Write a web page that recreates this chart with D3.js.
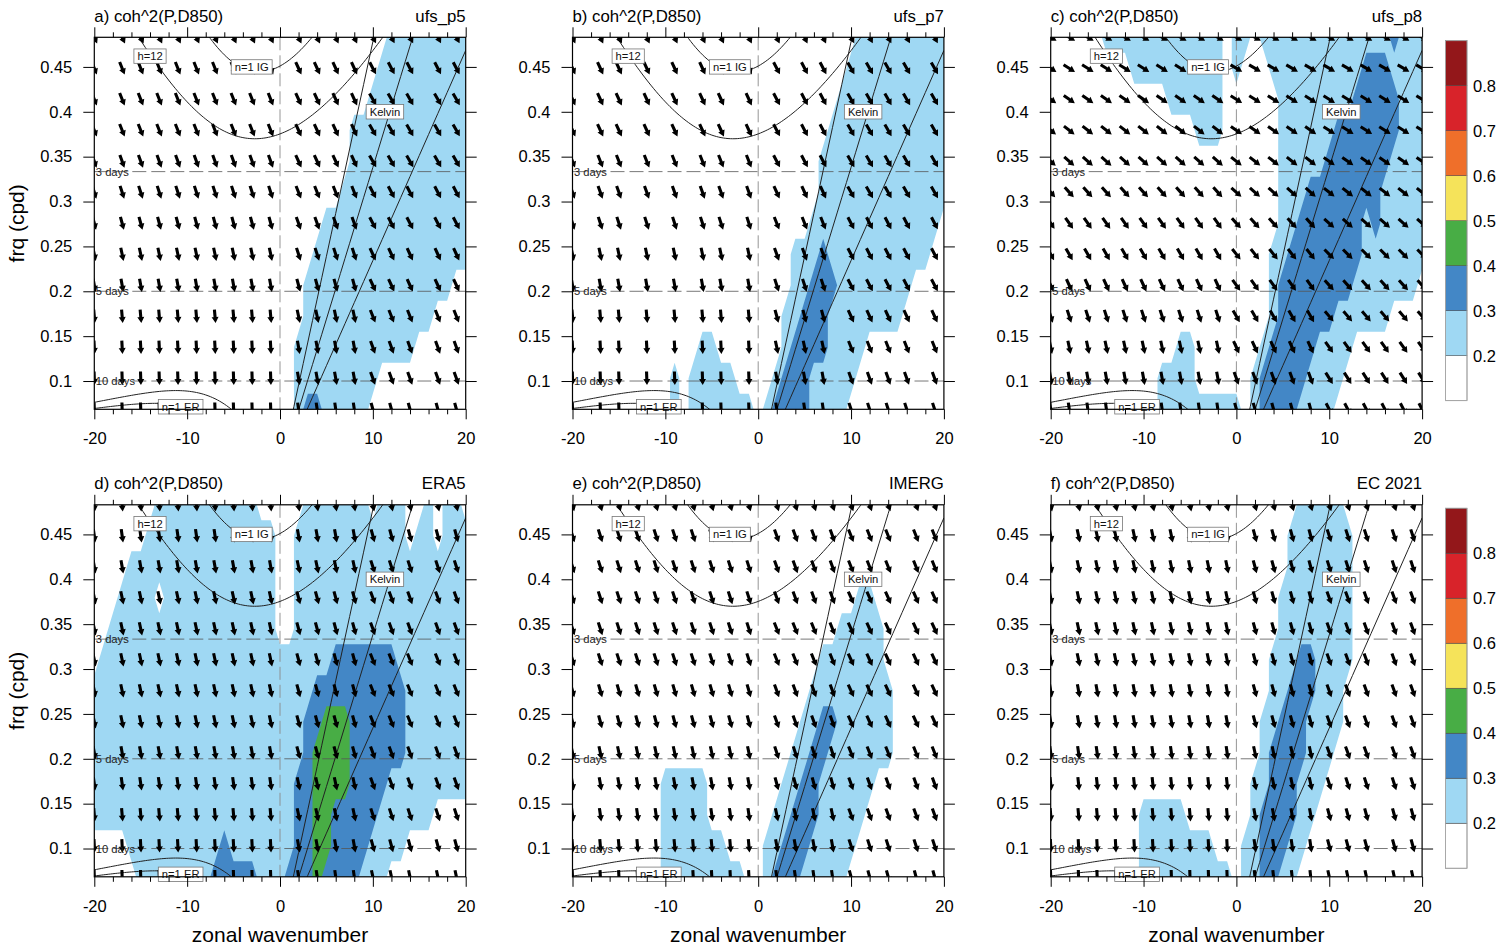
<!DOCTYPE html>
<html>
<head>
<meta charset="utf-8">
<script src="https://cdn.jsdelivr.net/npm/d3@7"></script>
<style>
body { margin: 0; background: #fff; }
svg text { font-family: "Liberation Sans", Arial, Helvetica, sans-serif; }
</style>
</head>
<body>
<svg id="chart" width="1503" height="949"></svg>
<script>
// coh^2 bins, one char per zonal wavenumber -20..20, rows go from top freq down to bottom freq
// 0: <0.2   1: 0.2-0.3   2: 0.3-0.4   3: 0.4-0.5
const cohA = [
  "0000000000 0000000000 0000000000 0011111111 1",
  "0000000000 0000000000 0000000000 0111111111 1",
  "0000000000 0000000000 0000000000 1111111111 1",
  "0000000000 0000000000 0000000011 1111111111 1",
  "0000000000 0000000000 0000000011 1111111111 1",
  "0000000000 0000000000 0000000111 1111111111 1",
  "0000000000 0000000000 0000011111 1111111111 1",
  "0000000000 0000000000 0000111111 1111111111 1",
  "0000000000 0000000000 0001111111 1111111110 0",
  "0000000000 0000000000 0001111111 1111111000 0",
  "0000000000 0000000000 0011111111 1111100000 0",
  "0000000000 0000000000 0011111111 1000000000 0",
  "0000000000 0000000000 0012211111 0000000000 0"
];
const cohB = [
  "0000000000 0000000000 0000000000 0111111111 1",
  "0000000000 0000000000 0000000000 1111111111 1",
  "0000000000 0000000000 0000000001 1111111111 1",
  "0000000000 0000000000 0000000011 1111111111 1",
  "0000000000 0000000000 0000000111 1111111111 1",
  "0000000000 0000000000 0000000111 1111111111 1",
  "0000000000 0000000000 0000001111 1111111111 0",
  "0000000000 0000000000 0000111211 1111111110 0",
  "0000000000 0000000000 0000112221 1111111000 0",
  "0000000000 0000000000 0001122211 1111110000 0",
  "0000000000 0000110000 0001222211 1100000000 0",
  "0000000000 0101111100 0012221111 1000000000 0",
  "0000000000 0101111111 0122221111 0000000000 0"
];
const cohC = [
  "0000001111 1111111110 1101111111 1111111211 1",
  "0000000001 1111111110 1000111111 1111222111 1",
  "0000000000 0001111110 0000011111 1112222211 1",
  "0000000000 0000001110 0000011111 1222222211 1",
  "0000000000 0000000000 0000011111 2222222111 1",
  "0000000000 0000000000 0000011122 2222221111 1",
  "0000000000 0000000000 0000011222 2222121111 1",
  "0000000000 0000000000 0000112222 2222111111 1",
  "0000000000 0000000000 0000122222 2221111111 0",
  "0000000000 0000000000 0000122222 2111111000 0",
  "0000000000 0000110000 0001222221 1110000000 0",
  "0000000000 0011110000 0012222211 1100000000 0",
  "0000000000 0011111111 1012222111 1000000000 0"
];
const cohD = [
  "0000000111 1111111100 0001111111 0111001011 0",
  "0000001111 1111111111 0011111111 1111011011 1",
  "0000111111 1111111111 0011111111 1111111111 1",
  "0001111011 1111111111 0011111111 1111111111 1",
  "0011111111 1111111111 0011111111 1111111111 1",
  "0111111111 1111111111 1111112222 2221111111 1",
  "1111111111 1111111111 1111222222 2222111111 1",
  "1111111111 1111111111 1112233322 2222111111 1",
  "1111111111 1111111111 1112333322 2222111111 1",
  "1111111111 1111111111 1122333322 2211111111 1",
  "1111111111 1111111111 1122332222 2111111000 0",
  "0000111111 1111211111 1122332222 1111000000 0",
  "0000011111 1112222211 1222322221 1100000000 0"
];
const cohE = [
  "0000000000 0000000000 0000000000 0000000000 0",
  "0000000000 0000000000 0000000000 0000000000 0",
  "0000000000 0000000000 0000000000 0000000000 0",
  "0000000000 0000000000 0000000000 0110000000 0",
  "0000000000 0000000000 0000000001 1111000000 0",
  "0000000000 0000000000 0000000111 1111000000 0",
  "0000000000 0000000000 0000001111 1111100000 0",
  "0000000000 0000000000 0000011221 1111100000 0",
  "0000000000 0000000000 0000112211 1111100000 0",
  "0000000000 1111100000 0001122111 1110000000 0",
  "0000000000 1111100000 0011222111 1100000000 0",
  "0000000000 1111111000 0112221111 1000000000 0",
  "0000000000 1111111110 0122211111 0000000000 0"
];
const cohF = [
  "0000000000 0000000000 0000000111 1100000000 0",
  "0000000000 0000000000 0000001111 1110000000 0",
  "0000000000 0000000000 0000001111 1110000000 0",
  "0000000000 0000000000 0000011111 1110000000 0",
  "0000000000 0000000000 0000011111 1110000000 0",
  "0000000000 0000000000 0000111221 1110000000 0",
  "0000000000 0000000000 0000112221 1100000000 0",
  "0000000000 0000000000 0001122211 1100000000 0",
  "0000000000 0000000000 0001222211 1000000000 0",
  "0000000000 0000000000 0011222111 0000000000 0",
  "0000000000 1111100000 0012222110 0000000000 0",
  "0000000000 1111111100 0112221100 0000000000 0",
  "0000000000 1111111111 0112211000 0000000000 0"
];

// phase arrows: tilt (deg) from straight down toward the right, per row, for k<0 / 0<=k<10 / k>=10
const angA = [[25,25,28],[22,25,28],[22,25,30],[22,25,30],[20,25,30],[18,22,28],[15,20,28],[12,18,25],[10,15,25],[5,12,22],[3,10,20],[2,10,20],[2,8,15]];
const angB = [[25,25,28],[25,28,30],[25,28,30],[25,28,30],[22,28,30],[20,25,30],[18,22,28],[12,20,28],[10,18,28],[5,15,25],[3,12,22],[2,10,20],[2,8,18]];
const angC = [[60,60,60],[58,60,60],[55,58,58],[52,55,58],[48,52,55],[42,48,52],[35,42,48],[30,38,45],[25,35,42],[18,30,40],[12,25,35],[10,20,32],[8,15,28]];
const angD = [[5,8,12],[8,10,15],[10,12,18],[12,15,20],[12,15,20],[12,15,22],[12,15,22],[12,15,22],[10,15,20],[8,12,20],[5,12,18],[3,10,15],[2,8,12]];
const angE = [[15,18,20],[18,20,22],[18,20,22],[18,20,24],[18,22,25],[18,22,25],[16,20,25],[15,20,25],[12,18,22],[10,15,20],[8,12,20],[5,10,18],[3,8,15]];
const angF = [[12,15,18],[12,15,18],[12,15,18],[12,15,20],[12,15,20],[12,15,20],[10,15,20],[10,15,20],[8,12,20],[6,12,18],[5,10,15],[3,8,15],[2,6,12]];

// wavenumbers where arrows are drawn (after thinning)
const colsA = [-20,-17,-15,-13,-11,-9,-7,-5,-3,-1,2,4,6,8,10,12,14,17,19];
const colsB = [-20,-17,-15,-12,-9,-6,-4,-1,2,5,7,10,12,14,16,19];
const colsC = [-20,-18,-16,-14,-12,-10,-8,-6,-4,-2,0,2,4,6,8,10,12,14,16,18,20];

const titles = ["a) coh^2(P,D850)","b) coh^2(P,D850)","c) coh^2(P,D850)","d) coh^2(P,D850)","e) coh^2(P,D850)","f) coh^2(P,D850)"];
const sources = ["ufs_p5","ufs_p7","ufs_p8","ERA5","IMERG","EC 2021"];

const frqTicks = [0.1,0.15,0.2,0.25,0.3,0.35,0.4,0.45];
const frqTickLabels = ["0.1","0.15","0.2","0.25","0.3","0.35","0.4","0.45"];
const wnTicks = [-20,-10,0,10,20];
const wnTickLabels = ["-20","-10","0","10","20"];
const periods = [3, 5, 10];

const eqDepths = [12, 25, 50];
const curveLabels = ["h=12","n=1 IG","Kelvin","n=1 ER"];
const curveLabelK = [-14.0, -3.05, 11.3, -10.7];
const curveLabelF = [0.462, 0.450, 0.400, 0.0713];

const cbLevels = [0.2,0.3,0.4,0.5,0.6,0.7,0.8];
const cbColors = ["#ffffff","#9fd8f3","#4387c6","#48ad45","#f5e35a","#ef6f2a","#d8232a","#93171a"];
const cohCode = [0.15,0.25,0.35,0.45,0.55,0.65,0.75,0.85];

// layout
const W = 371.4, H = 372;
const panelX = [94.3, 572.5, 1050.7];
const panelY = [37.3, 504.8];
const kMin = -20, kMax = 20, frqBot = 0.0685, frqTop = 0.483;

const panels = [
  {coh: cohA, ang: angA, ks: colsA},
  {coh: cohB, ang: angB, ks: colsB},
  {coh: cohC, ang: angC, ks: colsC},
  {coh: cohD, ang: angD, ks: colsA},
  {coh: cohE, ang: angE, ks: colsA},
  {coh: cohF, ang: angF, ks: colsA}
];

// equatorial wave dispersion (Matsuno), freq in cycles per day
const grav = 9.81, re = 6.371e6, beta = 2 * 7.292e-5 / re, cpd = 86400 / (2 * Math.PI);
function kelvinF(h, s) { const c = Math.sqrt(grav * h); return c * s / re * cpd; }
function erF(h, s) { const c = Math.sqrt(grav * h), k = s / re; return -beta * k / (k * k + 3 * beta / c) * cpd; }
function igF(h, s) {
  const c = Math.sqrt(grav * h), k = s / re;
  let w = Math.sqrt(3 * beta * c + k * k * c * c);
  for (let i = 0; i < 12; i++) w = Math.sqrt(3 * beta * c + k * k * c * c + beta * k * c * c / w);
  return w * cpd;
}

function arrowPath(cx, cy, deg) {
  const t = deg * Math.PI / 180, dx = Math.sin(t), dy = Math.cos(t);
  const L = 13.5, hl = 6, hw = 3.5, sw = 1.55;
  const tx = cx - dx * L / 2, ty = cy - dy * L / 2;
  const px = cx + dx * L / 2, py = cy + dy * L / 2;
  const bx = px - dx * hl, by = py - dy * hl;
  const nx = -dy, ny = dx;
  return "M" + (tx + nx * sw) + "," + (ty + ny * sw) +
    "L" + (bx + nx * sw) + "," + (by + ny * sw) +
    "L" + (bx + nx * hw) + "," + (by + ny * hw) +
    "L" + px + "," + py +
    "L" + (bx - nx * hw) + "," + (by - ny * hw) +
    "L" + (bx - nx * sw) + "," + (by - ny * sw) +
    "L" + (tx - nx * sw) + "," + (ty - ny * sw) + "Z";
}

const svg = d3.select("#chart");

panels.forEach(function(p, pi) {
  const col = pi % 3, row = Math.floor(pi / 3);
  const x0 = panelX[col], y0 = panelY[row];
  const x = d3.scaleLinear().domain([kMin, kMax]).range([x0, x0 + W]);
  const y = d3.scaleLinear().domain([frqBot, frqTop]).range([y0 + H, y0]);

  const clipId = "clip" + pi;
  svg.append("clipPath").attr("id", clipId)
    .append("rect").attr("x", x0).attr("y", y0).attr("width", W).attr("height", H);
  const g = svg.append("g").attr("clip-path", "url(#" + clipId + ")");

  // CONTOUR FILLS
  const rows = p.coh.map(s => s.replace(/ /g, ""));
  const nx = rows[0].length, ny = rows.length;
  const vals = rows.flatMap(s => Array.from(s, ch => cohCode[+ch]));
  const dk = (kMax - kMin) / (nx - 1), df = (frqTop - frqBot) / (ny - 1);
  const proj = d3.geoTransform({
    point: function(px, py) { this.stream.point(x(kMin + (px - 0.5) * dk), y(frqTop - (py - 0.5) * df)); }
  });
  const cpath = d3.geoPath(proj);
  const conts = d3.contours().size([nx, ny]).thresholds(cbLevels)(vals);
  g.selectAll("path.fill").data(conts).join("path")
    .attr("class", "fill")
    .attr("d", cpath)
    .attr("fill", (d, i) => cbColors[i + 1]);

  // dashed reference lines
  g.append("line").attr("x1", x(0)).attr("x2", x(0)).attr("y1", y0).attr("y2", y0 + H)
    .attr("stroke", "#8a8a8a").attr("stroke-width", 0.9).attr("stroke-dasharray", "13,5");
  periods.forEach(function(d) {
    g.append("line").attr("x1", x0).attr("x2", x0 + W).attr("y1", y(1 / d)).attr("y2", y(1 / d))
      .attr("stroke", "#555").attr("stroke-width", 0.8).attr("stroke-dasharray", "14,5");
  });

  // dispersion curves
  const line = d3.line().x(d => x(d[0])).y(d => y(d[1]));
  eqDepths.forEach(function(h) {
    const kel = d3.range(0, 20.01, 0.5).map(s => [s, kelvinF(h, s)]);
    const er = d3.range(-20, -0.2, 0.25).map(s => [s, erF(h, s)]);
    const ig = d3.range(-20, 20.01, 0.25).map(s => [s, igF(h, s)]);
    [kel, er, ig].forEach(function(c) {
      g.append("path").attr("d", line(c)).attr("fill", "none")
        .attr("stroke", "#222").attr("stroke-width", 1);
    });
  });

  // arrows
  const frqRows = d3.range(ny).map(r => frqTop - r * df);
  frqRows.forEach(function(f, r) {
    p.ks.forEach(function(k) {
      const band = k < 0 ? 0 : (k < 10 ? 1 : 2);
      g.append("path").attr("d", arrowPath(x(k), y(f), p.ang[r][band])).attr("fill", "#000");
    });
  });

  // period labels
  periods.forEach(function(d) {
    svg.append("text").attr("x", x0 + 1.5).attr("y", y(1 / d) + 4)
      .attr("font-size", 11.2).attr("fill", "#222").text(d + " days");
  });

  // curve labels
  curveLabels.forEach(function(t, i) {
    const lg = svg.append("g");
    const cx = x(curveLabelK[i]), cy = y(curveLabelF[i]);
    const rect = lg.append("rect");
    const txt = lg.append("text").attr("x", cx).attr("y", cy + 4)
      .attr("text-anchor", "middle").attr("font-size", 11.2).attr("fill", "#111").text(t);
    const tw = txt.node().getComputedTextLength();
    rect.attr("x", cx - tw / 2 - 3.5).attr("y", cy - 7.2).attr("width", tw + 7).attr("height", 14.4)
      .attr("fill", "#fff").attr("stroke", "#777").attr("stroke-width", 0.8);
  });

  // frame
  svg.append("rect").attr("x", x0).attr("y", y0).attr("width", W).attr("height", H)
    .attr("fill", "none").attr("stroke", "#000").attr("stroke-width", 1.2);

  // axes
  const fmtY = d => frqTickLabels[frqTicks.indexOf(d)];
  const fmtX = d => wnTickLabels[wnTicks.indexOf(d)];
  const minorK = d3.range(-20, 21, 2).filter(k => k % 10 !== 0);
  function clean(a) {
    a.select(".domain").remove();
    a.selectAll("line").attr("stroke", "#000").attr("stroke-width", 1);
    a.selectAll("text").attr("font-size", 16.5).attr("fill", "#000")
      .attr("font-family", '"Liberation Sans", Arial, Helvetica, sans-serif');
  }
  svg.append("g").attr("transform", "translate(0," + (y0 + H) + ")")
    .call(d3.axisBottom(x).tickValues(wnTicks).tickSize(10).tickPadding(13).tickFormat(fmtX)).call(clean);
  svg.append("g").attr("transform", "translate(0," + (y0 + H) + ")")
    .call(d3.axisBottom(x).tickValues(minorK).tickSize(5).tickFormat("")).call(clean);
  svg.append("g").attr("transform", "translate(0," + y0 + ")")
    .call(d3.axisTop(x).tickValues(wnTicks).tickSize(10).tickFormat("")).call(clean);
  svg.append("g").attr("transform", "translate(0," + y0 + ")")
    .call(d3.axisTop(x).tickValues(minorK).tickSize(5).tickFormat("")).call(clean);
  svg.append("g").attr("transform", "translate(" + x0 + ",0)")
    .call(d3.axisLeft(y).tickValues(frqTicks).tickSize(11).tickPadding(11).tickFormat(fmtY)).call(clean);
  svg.append("g").attr("transform", "translate(" + (x0 + W) + ",0)")
    .call(d3.axisRight(y).tickValues(frqTicks).tickSize(11).tickFormat("")).call(clean);

  // titles
  svg.append("text").attr("x", x0).attr("y", y0 - 15.6).attr("font-size", 16.8).text(titles[pi]);
  svg.append("text").attr("x", x0 + W).attr("y", y0 - 15.6).attr("font-size", 16.8)
    .attr("text-anchor", "end").text(sources[pi]);

  if (col === 0) {
    svg.append("text").attr("transform", "translate(24," + (y0 + H / 2) + ") rotate(-90)")
      .attr("text-anchor", "middle").attr("font-size", 21).text("frq (cpd)");
  }
  if (row === 1) {
    svg.append("text").attr("x", x0 + W / 2).attr("y", 942)
      .attr("text-anchor", "middle").attr("font-size", 21).text("zonal wavenumber");
  }
});

// COLORBARS
[0, 1].forEach(function(row) {
  const top = panelY[row] + 3.4, bot = top + 360;
  const cy = d3.scaleLinear().domain([0.1, 0.9]).range([bot, top]);
  const cb = svg.append("g");
  const edges = [0.1].concat(cbLevels).concat([0.9]);
  cbColors.forEach(function(c, i) {
    cb.append("rect").attr("x", 1445.5).attr("y", cy(edges[i + 1])).attr("width", 21.5)
      .attr("height", cy(edges[i]) - cy(edges[i + 1]))
      .attr("fill", c).attr("stroke", "#444").attr("stroke-width", 0.5);
  });
  cb.append("rect").attr("x", 1445.5).attr("y", top).attr("width", 21.5).attr("height", 360)
    .attr("fill", "none").attr("stroke", "#aaa").attr("stroke-width", 0.8);
  cbLevels.forEach(function(v) {
    cb.append("text").attr("x", 1473).attr("y", cy(v) + 6).attr("font-size", 16.5).text(v.toFixed(1));
  });
});
</script>
</body>
</html>
